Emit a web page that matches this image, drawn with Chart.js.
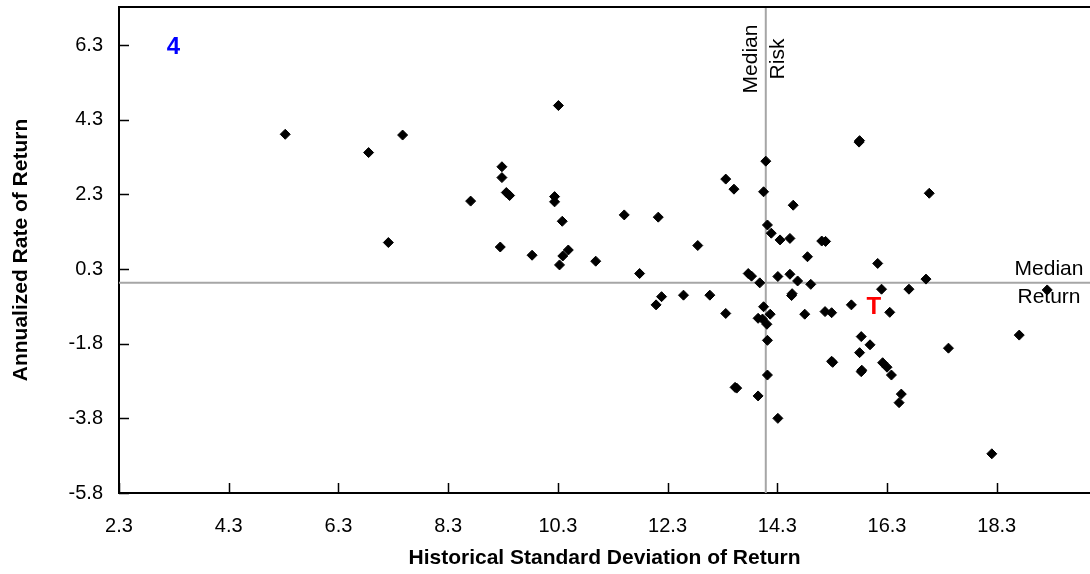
<!DOCTYPE html>
<html>
<head>
<meta charset="utf-8">
<script src="https://cdn.jsdelivr.net/npm/chart.js@4.4.0/dist/chart.umd.min.js"></script>
<style>
  html, body { margin: 0; padding: 0; background: #fff; }
</style>
</head>
<body>
<canvas id="riskChart" width="1090" height="574"></canvas>
<script>
// Risk / return scatter: x = historical std dev, y = annualized return
const riskValues = [
  5.33, 10.31, 7.47, 6.85, 9.28, 9.28, 9.36, 9.42, 8.71, 10.24,
  10.24, 10.38, 11.51, 12.13, 13.36, 13.51, 7.21, 9.25, 9.83, 10.49,
  10.39, 10.33, 10.99, 11.79, 12.85, 12.19, 12.09, 12.59, 13.07, 13.36,
  14.09, 15.80, 14.05, 17.07, 14.59, 14.12, 14.19, 14.35, 14.53, 15.11,
  15.18, 14.85, 16.13, 13.77, 13.83, 13.98, 14.31, 14.53, 14.67, 14.91,
  17.01, 14.56, 16.20, 16.70, 19.22, 14.05, 14.17, 13.95, 14.03, 14.11,
  14.80, 15.17, 15.29, 15.65, 16.35, 14.12, 15.83, 15.99, 15.80, 17.42,
  18.71, 15.31, 15.83, 16.22, 16.30, 16.38, 14.12, 13.56, 13.95, 16.56,
  16.52, 14.31, 18.21, 15.79, 14.57, 15.29, 15.84, 13.53
];
const returnValues = [
  3.91, 4.68, 3.89, 3.42, 3.04, 2.75, 2.35, 2.27, 2.12, 2.24,
  2.10, 1.58, 1.75, 1.69, 2.71, 2.44, 1.01, 0.89, 0.67, 0.81,
  0.65, 0.41, 0.51, 0.18, 0.93, -0.44, -0.66, -0.40, -0.40, -0.89,
  3.19, 3.74, 2.37, 2.33, 2.01, 1.48, 1.26, 1.08, 1.12, 1.05,
  1.04, 0.63, 0.45, 0.18, 0.11, -0.07, 0.10, 0.16, -0.02, -0.11,
  0.03, -0.41, -0.24, -0.24, -0.26, -0.71, -0.91, -1.02, -1.04, -1.18,
  -0.91, -0.84, -0.87, -0.66, -0.86, -1.61, -1.51, -1.73, -1.94, -1.82,
  -1.47, -2.20, -2.45, -2.21, -2.33, -2.54, -2.54, -2.89, -3.10, -3.05,
  -3.28, -3.70, -4.65, 3.70, -0.36, -2.17, -2.41, -2.87
];

const xTickValues = [2.3, 4.3, 6.3, 8.3, 10.3, 12.3, 14.3, 16.3, 18.3];
const yTickValues = [-5.7, -3.7, -1.7, 0.3, 2.3, 4.3, 6.3];
const yTickLabels = ['-5.8', '-3.8', '-1.8', '0.3', '2.3', '4.3', '6.3'];

const medianRisk = 14.09;
const medianReturn = -0.07;
const targetFund = { x: 16.06, y: -0.68, label: 'T' };
const quadrantMark = { x: 3.29, y: 6.3, label: '4' };

const FONT = "'Liberation Sans', Arial, sans-serif";

// median lines, their captions, inward tick marks and the top frame line
const overlayPlugin = {
  id: 'overlay',
  beforeDatasetsDraw(chart) {
    const { ctx, chartArea: a, scales: { x, y } } = chart;
    const mx = x.getPixelForValue(medianRisk);
    const my = y.getPixelForValue(medianReturn);
    ctx.save();
    ctx.strokeStyle = '#a6a6a6';
    ctx.lineWidth = 2;
    ctx.beginPath();
    ctx.moveTo(mx, a.top);
    ctx.lineTo(mx, a.bottom);
    ctx.moveTo(a.left, my);
    ctx.lineTo(a.right, my);
    ctx.stroke();

    ctx.fillStyle = '#000';
    ctx.font = '21px ' + FONT;
    ctx.textAlign = 'center';
    ctx.textBaseline = 'middle';
    // vertical caption beside the median risk line
    ctx.save();
    ctx.translate(mx, a.top + 52);
    ctx.rotate(-Math.PI / 2);
    ctx.fillText('Median', 0, -15);
    ctx.fillText('Risk', 0, 12);
    ctx.restore();
    // caption of the median return line
    ctx.fillText('Median', a.right - 41, my - 14);
    ctx.fillText('Return', a.right - 41, my + 14);
    ctx.restore();
  },
  afterDatasetsDraw(chart) {
    const { ctx, chartArea: a, scales: { x, y } } = chart;
    ctx.save();
    ctx.strokeStyle = '#000';
    ctx.lineWidth = 1.5;
    ctx.beginPath();
    xTickValues.forEach(v => {
      const px = Math.round(x.getPixelForValue(v)) + 0.5;
      ctx.moveTo(px, a.bottom);
      ctx.lineTo(px, a.bottom - 10);
    });
    yTickValues.forEach(v => {
      const py = Math.round(y.getPixelForValue(v)) + 0.5;
      ctx.moveTo(a.left, py);
      ctx.lineTo(a.left + 10, py);
    });
    ctx.stroke();

    ctx.lineWidth = 2;
    ctx.beginPath();
    ctx.moveTo(a.left, a.top);
    ctx.lineTo(a.right, a.top);
    ctx.stroke();

    // bold markers, centred on their data point by cap height
    ctx.font = 'bold 24px ' + FONT;
    ctx.textAlign = 'center';
    ctx.textBaseline = 'alphabetic';
    ctx.fillStyle = '#0000ff';
    ctx.fillText(quadrantMark.label, x.getPixelForValue(quadrantMark.x), y.getPixelForValue(quadrantMark.y) + 8.5);
    ctx.fillStyle = '#ff0000';
    ctx.fillText(targetFund.label, x.getPixelForValue(targetFund.x), y.getPixelForValue(targetFund.y) + 8.5);
    ctx.restore();
  }
};

const points = riskValues.map((r, i) => ({ x: r, y: returnValues[i] }));

new Chart(document.getElementById('riskChart'), {
  type: 'scatter',
  data: {
    datasets: [{
      data: points,
      pointStyle: 'rectRot',
      pointRadius: 5,
      pointBorderWidth: 1,
      backgroundColor: '#000',
      borderColor: '#000'
    }]
  },
  options: {
    responsive: false,
    animation: false,
    layout: { autoPadding: false, padding: { top: 7, left: 0, right: 0, bottom: 0 } },
    plugins: {
      legend: { display: false },
      tooltip: { enabled: false }
    },
    scales: {
      x: {
        type: 'linear',
        min: 2.3,
        max: 20.0,
        afterBuildTicks: scale => { scale.ticks = xTickValues.map(v => ({ value: v })); },
        afterFit: scale => {
          scale.height = 81;
          scale.paddingLeft = 0;
          scale.paddingRight = 0;
        },
        grid: { display: false },
        border: { display: true, color: '#000', width: 2 },
        ticks: {
          color: '#000',
          padding: 13,
          font: { family: FONT, size: 20 },
          callback: v => v.toFixed(1)
        },
        title: {
          display: true,
          text: 'Historical Standard Deviation of Return',
          color: '#000',
          font: { family: FONT, size: 21, weight: 'bold' },
          padding: { top: 0, bottom: 3 }
        }
      },
      y: {
        type: 'linear',
        min: -5.7,
        max: 7.32,
        afterBuildTicks: scale => { scale.ticks = yTickValues.map(v => ({ value: v })); },
        afterFit: scale => {
          scale.width = 119;
          scale.paddingTop = 0;
          scale.paddingBottom = 0;
        },
        grid: { display: false },
        border: { display: true, color: '#000', width: 2 },
        ticks: {
          color: '#000',
          padding: 8,
          font: { family: FONT, size: 20 },
          callback: (v, i) => yTickLabels[i]
        },
        title: {
          display: true,
          text: 'Annualized Rate of Return',
          color: '#000',
          font: { family: FONT, size: 21, weight: 'bold' },
          padding: { top: 9, bottom: 0 }
        }
      }
    }
  },
  plugins: [overlayPlugin]
});
</script>
</body>
</html>
